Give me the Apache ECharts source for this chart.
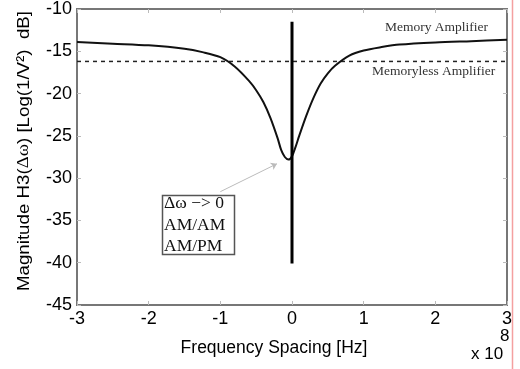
<!DOCTYPE html>
<html><head><meta charset="utf-8">
<script src="https://cdn.jsdelivr.net/npm/echarts@6/dist/echarts.min.js"></script>
<style>html,body{margin:0;padding:0;background:#fff}#c{width:520px;height:369px}</style>
</head><body><div id="c"></div>
<script>
const xTicks = [-3, -2, -1, 0, 1, 2, 3];
const yTicks = [-10, -15, -20, -25, -30, -35, -40, -45];
const freqX = [-3, -2.5, -2, -1.5, -1.25, -1, -0.8, -0.6, -0.5, -0.4, -0.3, -0.2, -0.15, -0.1, -0.05, 0, 0.05, 0.1, 0.2, 0.3, 0.4, 0.5, 0.6, 0.8, 1, 1.25, 1.5, 2, 2.5, 3];
const memoryY = [-13.9, -14.1, -14.3, -14.7, -15.1, -15.7, -16.8, -18.5, -19.6, -21.0, -22.9, -25.3, -26.7, -27.5, -27.8, -27.4, -26.3, -25.0, -22.6, -20.5, -18.8, -17.6, -16.7, -15.5, -14.9, -14.5, -14.2, -13.95, -13.8, -13.65];
const memorylessX = [-3, 3];
const memorylessY = [-16.2, -16.2];
const spikeX = [0, 0];
const spikeY = [-11.5, -40.1];
const arrowFrom = [-1.0, -31.6];
const arrowTo = [-0.21, -28.3];
const labelMemory = 'Memory Amplifier';
const labelMemoryless = 'Memoryless Amplifier';
const boxLines = ['Δω −> 0', 'AM/AM', 'AM/PM'];
const xName = 'Frequency Spacing [Hz]';

const chart = echarts.init(document.getElementById('c'));
const axisCommon = {
  axisLine: {show: true, onZero: false, lineStyle: {color: '#777', width: 2}},
  axisTick: {show: true, inside: true, length: 4, lineStyle: {color: '#bbb'}},
  splitLine: {show: false}
};
chart.setOption({
  animation: false,
  grid: {left: 77, right: 13, top: 7, bottom: 64, show: true, borderColor: '#777', borderWidth: 2},
  xAxis: [
    Object.assign({type: 'value', min: xTicks[0], max: xTicks[xTicks.length - 1], interval: 1,
      position: 'bottom',
      axisLabel: {color: '#000', fontFamily: 'Liberation Sans', fontSize: 18, margin: 5}}, axisCommon),
    Object.assign({type: 'value', min: xTicks[0], max: xTicks[xTicks.length - 1], interval: 1,
      position: 'top', axisLabel: {show: false}}, axisCommon)
  ],
  yAxis: [
    Object.assign({type: 'value', min: yTicks[yTicks.length - 1], max: yTicks[0], interval: 5,
      axisLabel: {color: '#000', fontFamily: 'Liberation Sans', fontSize: 18, margin: 5}}, axisCommon),
    Object.assign({type: 'value', min: yTicks[yTicks.length - 1], max: yTicks[0], interval: 5,
      position: 'right', axisLabel: {show: false}}, axisCommon)
  ],
  series: [
    {type: 'line', data: freqX.map((x, i) => [x, memoryY[i]]), smooth: 0.3, symbol: 'none',
      lineStyle: {color: '#111', width: 2}, z: 3},
    {type: 'line', data: memorylessX.map((x, i) => [x, memorylessY[i]]), symbol: 'none',
      lineStyle: {color: '#222', width: 1.5, type: [4, 4]}, z: 2},
    {type: 'line', data: spikeX.map((x, i) => [x, spikeY[i]]), symbol: 'none',
      lineStyle: {color: '#000', width: 3}, z: 4},
    {type: 'lines', coordinateSystem: 'cartesian2d', symbol: ['none', 'arrow'], symbolSize: 6,
      data: [{coords: [arrowFrom, arrowTo]}],
      lineStyle: {color: '#bbb', width: 1, opacity: 1},
      itemStyle: {color: '#333'}, z: 5}
  ],
  graphic: [
    {type: 'text', x: 274, y: 348, style: {text: xName, font: '17.5px "Liberation Sans"', fill: '#000', align: 'center', verticalAlign: 'middle'}},
    {type: 'text', x: 24, y: 151, rotation: Math.PI / 2, scaleX: 1.1,
      style: {text: '{s|Magnitude H3(}{r|Δω}{s|) [Log(1/V²)  dB]}', align: 'center', verticalAlign: 'middle',
        rich: {s: {fontFamily: 'Liberation Sans', fontSize: 17, fill: '#000'},
               r: {fontFamily: 'Liberation Serif', fontSize: 17, fill: '#000'}}}},
    {type: 'text', left: 385, top: 20, style: {text: labelMemory, font: '13.5px "Liberation Serif"', fill: '#333'}},
    {type: 'text', left: 372, top: 64, style: {text: labelMemoryless, font: '13.5px "Liberation Serif"', fill: '#333'}},
    {type: 'rect', shape: {x: 162.5, y: 195.5, width: 72, height: 59}, style: {fill: '#fff', stroke: '#555', lineWidth: 1.5}, z: 10},
    {type: 'text', left: 164, top: 193, z: 11, style: {text: boxLines.join('\n'), font: '17.5px "Liberation Serif"', lineHeight: 21.5, fill: '#111'}},
    {type: 'text', left: 500, top: 328, style: {text: '8', font: '17px "Liberation Sans"', fill: '#000'}},
    {type: 'text', left: 471, top: 346, style: {text: 'x 10', font: '17px "Liberation Sans"', fill: '#000'}},
    {type: 'line', shape: {x1: 512.5, y1: 0, x2: 512.5, y2: 369}, style: {stroke: '#f4a0a0', lineWidth: 1.5}}
  ]
});
</script></body></html>
